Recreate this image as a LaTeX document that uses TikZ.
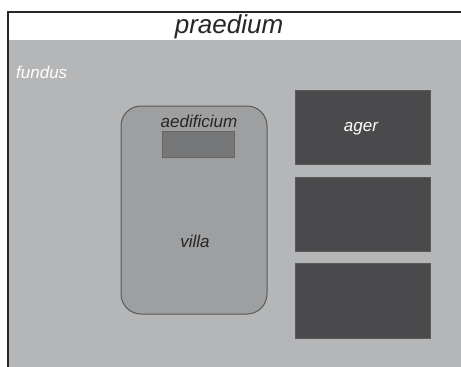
\documentclass[tikz,border=0pt]{standalone}
\usepackage{fontspec}
\setmainfont{Liberation Sans}

\definecolor{fundusgrey}{RGB}{181,182,184}
\definecolor{villagrey}{RGB}{158,159,161}
\definecolor{aedesgrey}{RGB}{118,119,121}
\definecolor{agergrey}{RGB}{74,74,76}

\tikzset{
	field/.style={fill=agergrey, draw=gray!70!black, line width=0.8pt},
	lbl/.style={font=\fontsize{17}{20}\selectfont\itshape, inner sep=0pt}
}

\begin{document}
\begin{tikzpicture}[x=1pt, y=-1pt]
		\useasboundingbox (0,0) rectangle (461,367);
		\fill[white] (0,0) rectangle (461,367);
		% fundus
		\fill[fundusgrey] (8,40) rectangle (461,367);
		\draw[black!85, line width=1.2pt] (8,367) -- (8,12) -- (461,12);
		\node[font=\fontsize{26}{30}\selectfont\itshape, inner sep=0pt, text=black!85] (praedium) at (229,27) {praedium};
		\node[lbl, text=white, anchor=west] (fundus) at (16,72) {fundus};
		% villa
		\draw[fill=villagrey, draw=black!65, line width=1pt, rounded corners=20pt] (121,106) rectangle (267,314);
		\draw[fill=aedesgrey, draw=black!60, line width=0.8pt] (162,131) rectangle (234,157);
		\node[lbl, text=black!85] (aedificium) at (199,121) {aedificium};
		\node[lbl, text=black!85] (villa) at (195,241) {villa};
		% agri
		\draw[field] (295,90) rectangle (430,164);
		\draw[field] (295,177) rectangle (430,251);
		\draw[field] (295,263) rectangle (430,338);
		\node[lbl, text=white] (ager) at (361,129) {ager};
	\end{tikzpicture}
\end{document}
